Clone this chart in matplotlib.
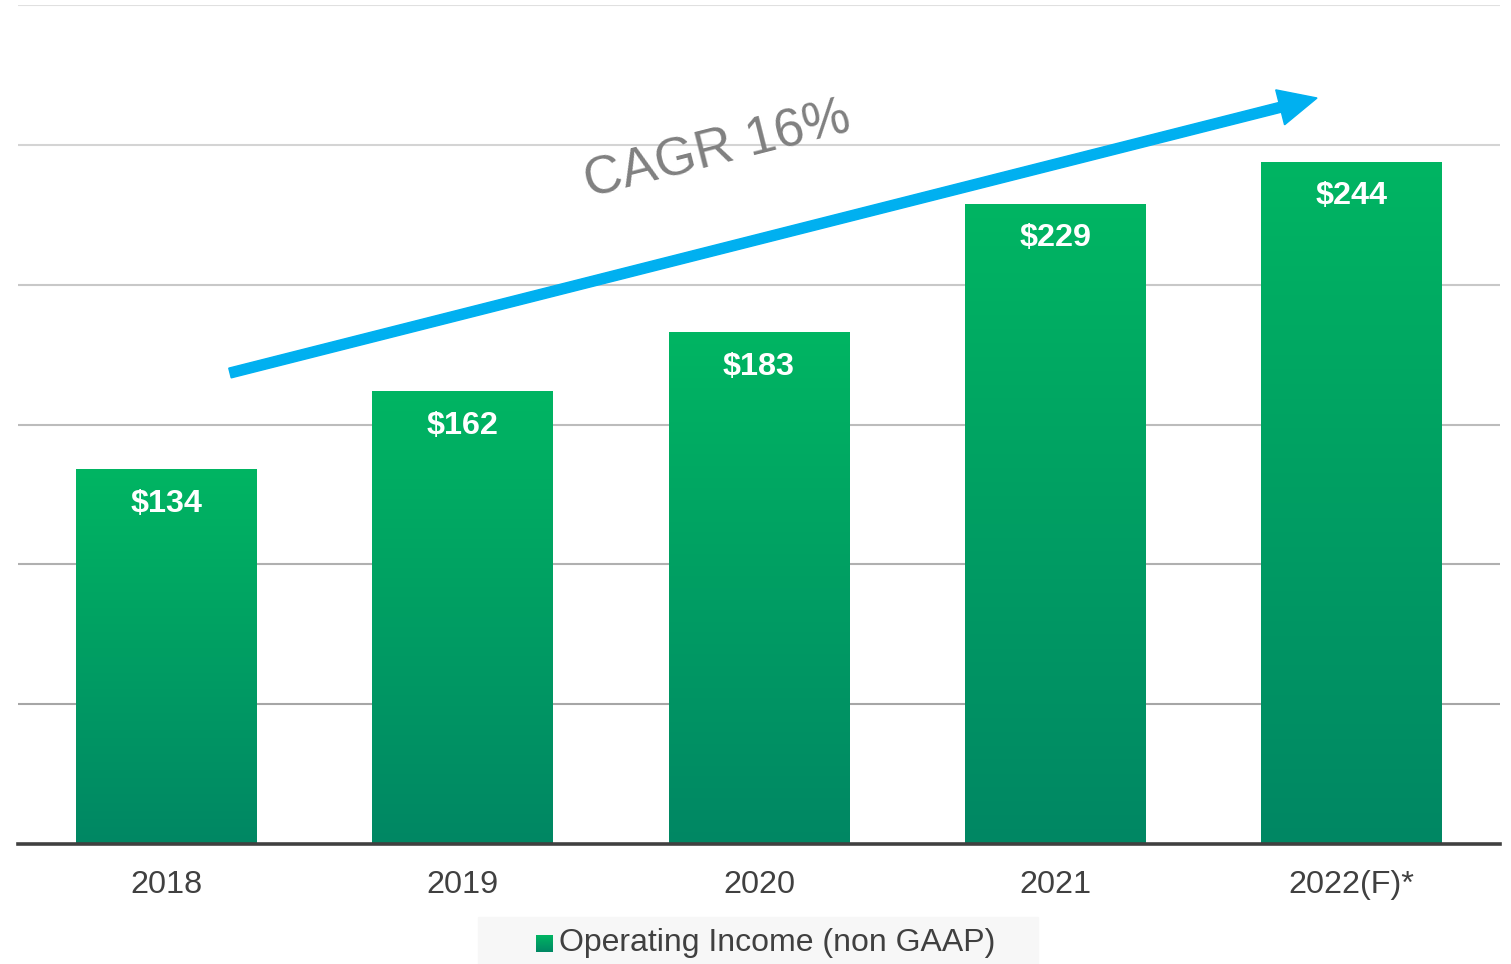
import numpy as np
import matplotlib
matplotlib.use('Agg')
import matplotlib.pyplot as plt
import matplotlib.patches as mpatches
from matplotlib.colors import LinearSegmentedColormap

years = ['2018', '2019', '2020', '2021', '2022(F)*']
income = [134, 162, 183, 229, 244]
labels = ['$134', '$162', '$183', '$229', '$244']
grid_levels = [50, 100, 150, 200, 250, 300]

plt.rcParams['font.family'] = ['Liberation Sans', 'DejaVu Sans']

fig = plt.figure(figsize=(15.11, 9.64), dpi=100)
ax = fig.add_axes([18 / 1511, 1 - 844 / 964, 1482 / 1511, 839 / 964])
ax.set_xlim(-0.5, 4.5)
ax.set_ylim(0, 300)

# gridlines, lighter towards the top
grid_cols = ['#a6a6a6', '#b0b0b0', '#bcbcbc', '#c8c8c8', '#d4d4d4', '#e0e0e0']
for lvl, c in zip(grid_levels, grid_cols):
  ax.axhline(lvl, color=c, lw=1.5, zorder=0)

# bars with vertical gradient
green = LinearSegmentedColormap.from_list('g', ['#008764', '#00b562'])
grad = np.linspace(0, 1, 256).reshape(-1, 1)
bars = ax.bar(range(len(years)), income, width=0.61, color='none', zorder=2)
for b in bars:
  x0 = b.get_x()
  im = ax.imshow(grad, cmap=green, origin='lower', aspect='auto',
                 extent=[x0, x0 + b.get_width(), 0, b.get_height()], zorder=2)
  im.set_clip_path(b)

for i, (v, t) in enumerate(zip(income, labels)):
  ax.text(i, v - 12.4, t, ha='center', va='center', color='white',
          fontsize=23.3, fontweight='bold', zorder=3)

ax.set_xlim(-0.5, 4.5)
ax.set_ylim(0, 300)

ax.axhline(0, color='#404040', lw=2.6, zorder=4, clip_on=False)
for s in ax.spines.values():
  s.set_visible(False)
ax.set_yticks([])
ax.set_xticks(range(len(years)))
ax.set_xticklabels(years, fontsize=23.3, color='#404040')
ax.tick_params(axis='x', length=0, pad=19)

# CAGR arrow (figure inches, dpi 100)
arrow = mpatches.FancyArrow(2.30, 9.64 - 3.73, 13.17 - 2.30, 3.73 - 0.98,
                            width=0.10, head_width=0.36, head_length=0.38,
                            length_includes_head=True, color='#00b0f0',
                            transform=fig.dpi_scale_trans)
fig.add_artist(arrow)
fig.text(718 / 1511, 1 - 151 / 964, 'CAGR 16%', rotation=14.2, fontsize=38,
         color='#808080', ha='center', va='center', rotation_mode='anchor')

# legend
fig.add_artist(mpatches.Rectangle((478 / 1511, 0), 560 / 1511, 47 / 964,
                                  transform=fig.transFigure, color='#f7f7f7', zorder=0))
leg_ax = fig.add_axes([536 / 1511, 1 - 952 / 964, 16 / 1511, 17 / 964])
leg_ax.imshow(grad, cmap=green, origin='lower', aspect='auto', extent=[0, 1, 0, 1])
leg_ax.axis('off')
fig.text(559 / 1511, 1 - 943 / 964, 'Operating Income (non GAAP)', fontsize=23,
         color='#404040', ha='left', va='center')

fig.savefig('out.png', dpi=100)
